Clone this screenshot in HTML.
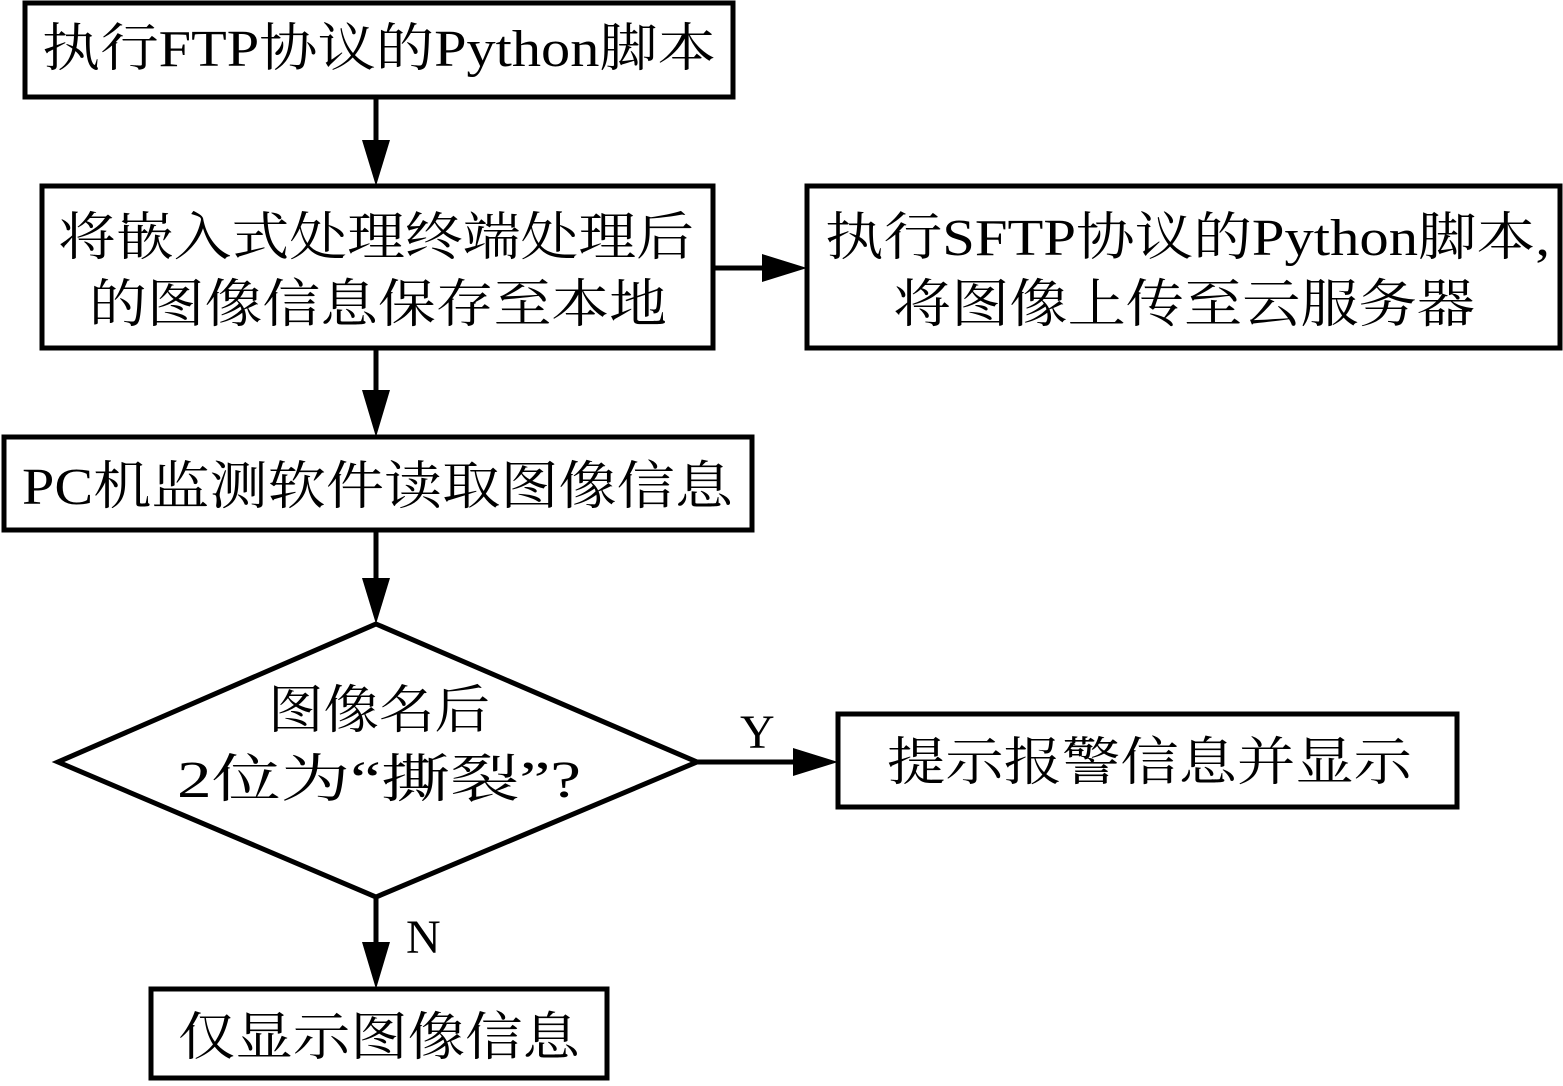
<!DOCTYPE html>
<html><head><meta charset="utf-8"><style>html,body{margin:0;padding:0;background:#fff}svg{display:block}</style></head>
<body>
<svg width="1563" height="1086" viewBox="0 0 1563 1086" xmlns="http://www.w3.org/2000/svg">
<g fill="none" stroke="#000" stroke-width="5">
<rect x="25" y="3" width="708" height="94"/>
<rect x="42" y="186" width="671" height="162"/>
<rect x="807" y="186" width="753" height="162"/>
<rect x="4" y="437" width="748" height="93"/>
<polygon points="376,624 697,762 376,897 58,762"/>
<rect x="838" y="714" width="619" height="93"/>
<rect x="151" y="989" width="456" height="89"/>
<line x1="376" y1="97" x2="376" y2="142"/>
<line x1="376" y1="348" x2="376" y2="392"/>
<line x1="376" y1="530" x2="376" y2="580"/>
<line x1="376" y1="897" x2="376" y2="944"/>
<line x1="713" y1="268" x2="765" y2="268"/>
<line x1="697" y1="762" x2="795" y2="762"/>
</g>
<g fill="#000">
<polygon points="362,140 390,140 376,186"/>
<polygon points="362,390 390,390 376,437"/>
<polygon points="362,578 390,578 376,624"/>
<polygon points="362,942 390,942 376,989"/>
<polygon points="762,254 762,282 807,268"/>
<polygon points="793,748 793,776 838,762"/>
</g>
<g font-family="Liberation Serif, Noto Serif CJK SC, serif" font-size="52" fill="#000">
<text x="42" y="66" textLength="674" lengthAdjust="spacingAndGlyphs">执行FTP协议的Python脚本</text>
<text x="58" y="255" textLength="636" lengthAdjust="spacingAndGlyphs">将嵌入式处理终端处理后</text>
<text x="89" y="322" textLength="578" lengthAdjust="spacingAndGlyphs">的图像信息保存至本地</text>
<text x="825" y="255" textLength="725" lengthAdjust="spacingAndGlyphs">执行SFTP协议的Python脚本,</text>
<text x="893" y="322" textLength="582" lengthAdjust="spacingAndGlyphs">将图像上传至云服务器</text>
<text x="22" y="504" textLength="711" lengthAdjust="spacingAndGlyphs">PC机监测软件读取图像信息</text>
<text x="268" y="728" textLength="222" lengthAdjust="spacingAndGlyphs">图像名后</text>
<text x="177" y="797" textLength="404" lengthAdjust="spacingAndGlyphs">2位为“撕裂”?</text>
<text x="887" y="780" textLength="525" lengthAdjust="spacingAndGlyphs">提示报警信息并显示</text>
<text x="178" y="1055" textLength="402" lengthAdjust="spacingAndGlyphs">仅显示图像信息</text>
<text x="740" y="748" font-size="48">Y</text>
<text x="406" y="953" font-size="48">N</text>
</g>
</svg>
</body></html>
